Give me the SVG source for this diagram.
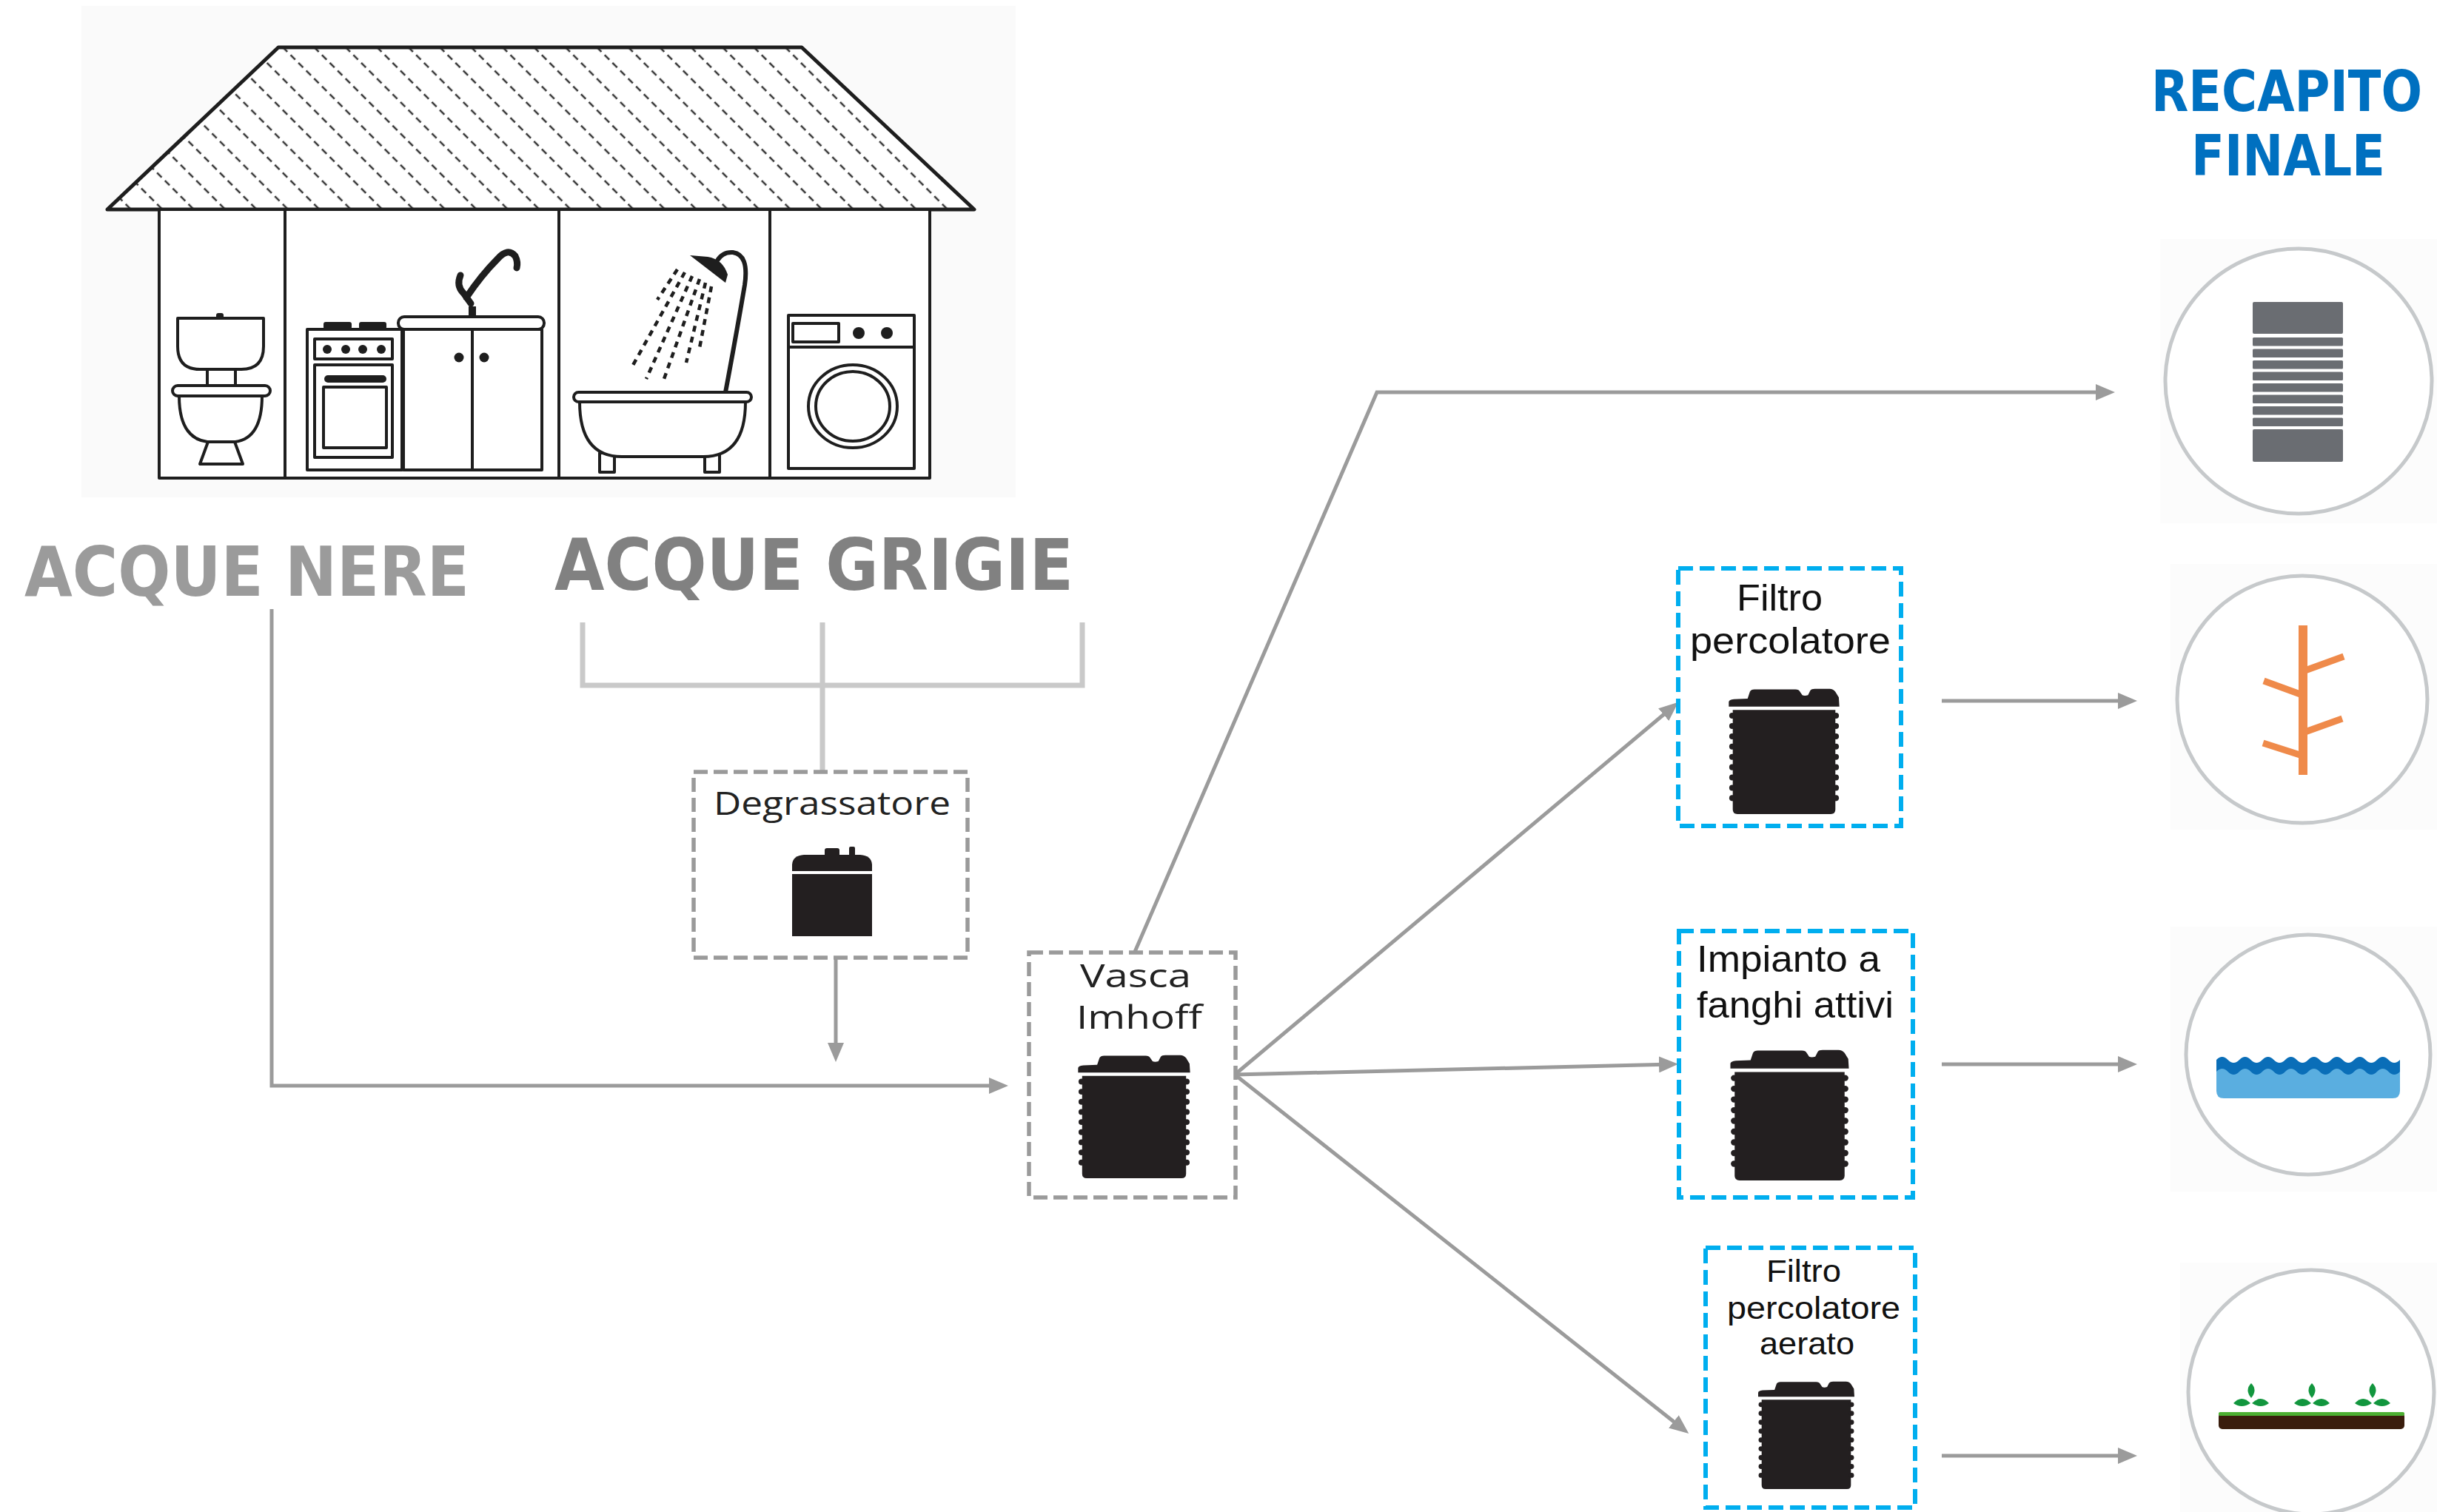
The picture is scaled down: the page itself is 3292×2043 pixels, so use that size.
<svg xmlns="http://www.w3.org/2000/svg" width="3292" height="2043" viewBox="0 0 3292 2043">
  <style>
    .conn { fill: none; stroke: #9b9b9b; stroke-width: 5; }
    .fork { fill: none; stroke: #c9c9c9; stroke-width: 7; }
    .grey-box { fill: #ffffff; stroke: #9a9a9a; stroke-width: 5.5; stroke-dasharray: 19 8; }
    .blue-box { fill: #ffffff; stroke: #00aeef; stroke-width: 6; stroke-dasharray: 20 9; }
    .ink { fill: #ffffff; stroke: #1e1e1e; stroke-width: 4; stroke-linejoin: round; }
    .ink-line { fill: none; stroke: #1e1e1e; stroke-width: 4; }
    .solid { fill: #1e1e1e; }
    .tank { fill: #231f20; }
    .lbl-g { font-family: "Open Sans", "DejaVu Sans", sans-serif; font-size: 44px; fill: #222222; }
    .lbl-h { font-family: "Liberation Sans", Arial, sans-serif; fill: #111111; }
    .head { font-family: "DejaVu Sans", Verdana, sans-serif; font-weight: bold; }
    .title { font-family: "DejaVu Sans Condensed", "DejaVu Sans", sans-serif; font-stretch: condensed; font-weight: bold; fill: #0070c0; }
    .dest { fill: #ffffff; stroke: #c6c9cb; stroke-width: 5; }
    .halo { fill: #fcfcfc; }
  </style>
  <defs>
    <marker id="arr" viewBox="0 0 26 22" refX="18" refY="11" markerWidth="26" markerHeight="22" markerUnits="userSpaceOnUse" orient="auto">
      <path d="M0,0 L26,11 L0,22 Z" fill="#9b9b9b"/>
    </marker>
    <pattern id="roofHatch" patternUnits="userSpaceOnUse" width="30" height="30" patternTransform="rotate(45)">
      <line x1="0" y1="15" x2="30" y2="15" stroke="#333333" stroke-width="2.6" stroke-dasharray="9 6"/>
    </pattern>
    <!-- ribbed tank with a lid (treatment units) -->
    <symbol id="tankTall" viewBox="0 0 100 110" preserveAspectRatio="none">
      <path class="tank" d="M1.5,16 L1.5,12 Q1.5,10 6,9.5 L18,9 L20,3 Q21,1 24,1 L60,1 Q63,1 64,3 L66,6 Q68,7 71,6 L73,2 Q74,0.5 77,0.5 L90,0.5 Q93,0.5 95,3 L98,8 L98.5,16 Z"/>
      <path class="tank" d="M5,19 L95,19 L95,106 Q95,110 91,110 L9,110 Q5,110 5,106 Z"/>
      <g class="tank">
        <ellipse cx="4.5" cy="24" rx="2.6" ry="2.6"/><ellipse cx="95.5" cy="24" rx="2.6" ry="2.6"/>
        <ellipse cx="4.5" cy="33" rx="2.6" ry="2.6"/><ellipse cx="95.5" cy="33" rx="2.6" ry="2.6"/>
        <ellipse cx="4.5" cy="42" rx="2.6" ry="2.6"/><ellipse cx="95.5" cy="42" rx="2.6" ry="2.6"/>
        <ellipse cx="4.5" cy="51" rx="2.6" ry="2.6"/><ellipse cx="95.5" cy="51" rx="2.6" ry="2.6"/>
        <ellipse cx="4.5" cy="60" rx="2.6" ry="2.6"/><ellipse cx="95.5" cy="60" rx="2.6" ry="2.6"/>
        <ellipse cx="4.5" cy="69" rx="2.6" ry="2.6"/><ellipse cx="95.5" cy="69" rx="2.6" ry="2.6"/>
        <ellipse cx="4.5" cy="78" rx="2.6" ry="2.6"/><ellipse cx="95.5" cy="78" rx="2.6" ry="2.6"/>
        <ellipse cx="4.5" cy="87" rx="2.6" ry="2.6"/><ellipse cx="95.5" cy="87" rx="2.6" ry="2.6"/>
        <ellipse cx="4.5" cy="96" rx="2.6" ry="2.6"/><ellipse cx="95.5" cy="96" rx="2.6" ry="2.6"/>
      </g>
    </symbol>
    <!-- grease trap tank -->
    <symbol id="tankShort" viewBox="0 0 108 121" preserveAspectRatio="none">
      <rect class="tank" x="44" y="2" width="20" height="14" rx="3"/>
      <rect class="tank" x="77" y="0" width="8" height="14" rx="2"/>
      <path class="tank" d="M0,33 L0,24 Q1,12 16,11 L92,11 Q107,12 108,24 L108,33 Z"/>
      <rect class="tank" x="0" y="37" width="108" height="84"/>
    </symbol>
  </defs>

  <rect x="0" y="0" width="3292" height="2043" fill="#ffffff"/>

  <!-- house with the domestic fixtures -->
  <g id="house">
    <rect x="110" y="8" width="1262" height="664" fill="#fafafa"/>
    <polygon points="376,64 1083,64 1316,283 145,283" fill="#ffffff"/>
    <polygon points="376,64 1083,64 1316,283 145,283" fill="url(#roofHatch)"/>
    <polygon points="376,64 1083,64 1316,283 145,283" fill="none" stroke="#1e1e1e" stroke-width="5" stroke-linejoin="round"/>
    <rect class="ink" x="215" y="283" width="1041" height="363"/>
    <line class="ink-line" x1="385" y1="283" x2="385" y2="646"/>
    <line class="ink-line" x1="755" y1="283" x2="755" y2="646"/>
    <line class="ink-line" x1="1040" y1="283" x2="1040" y2="646"/>

    <!-- toilet -->
    <rect class="solid" x="292" y="423" width="10" height="10" rx="3"/>
    <path class="ink" d="M240,430 L356,430 L356,468 Q356,499 326,499 L270,499 Q240,499 240,468 Z"/>
    <rect class="ink" x="280" y="499" width="38" height="22"/>
    <path class="ink" d="M242,535 L354,535 Q354,592 318,597 L280,597 Q242,592 242,535 Z"/>
    <path class="ink" d="M281,597 L270,627 L328,627 L317,597 Z"/>
    <rect class="ink" x="233" y="521" width="132" height="14" rx="7"/>

    <!-- stove -->
    <rect class="solid" x="437" y="435" width="38" height="10" rx="3"/>
    <rect class="solid" x="485" y="435" width="37" height="10" rx="3"/>
    <rect class="ink" x="415" y="445" width="128" height="190"/>
    <rect class="ink" x="425" y="458" width="105" height="27"/>
    <circle class="solid" cx="442" cy="472" r="6"/>
    <circle class="solid" cx="467" cy="472" r="6"/>
    <circle class="solid" cx="490" cy="472" r="6"/>
    <circle class="solid" cx="515" cy="472" r="6"/>
    <rect class="ink" x="425" y="493" width="105" height="125"/>
    <rect class="solid" x="438" y="507" width="84" height="10" rx="5"/>
    <rect class="ink" x="437" y="523" width="85" height="82"/>

    <!-- sink cabinet and tap -->
    <rect class="solid" x="633" y="414" width="10" height="14"/>
    <path d="M622,372 Q616,386 626,396 L636,410 M630,402 Q650,372 672,350 Q686,334 696,346 Q700,354 698,362" fill="none" stroke="#1e1e1e" stroke-width="9" stroke-linecap="round" stroke-linejoin="round"/>
    <rect class="ink" x="545" y="445" width="187" height="190"/>
    <line class="ink-line" x1="638" y1="445" x2="638" y2="635"/>
    <circle class="solid" cx="620" cy="483" r="6.5"/>
    <circle class="solid" cx="654" cy="483" r="6.5"/>
    <rect class="ink" x="538" y="428" width="197" height="17" rx="8"/>

    <!-- bath tub with shower -->
    <path d="M980,530 Q995,450 1006,385 Q1012,344 990,341 Q976,340 969,352" fill="none" stroke="#1e1e1e" stroke-width="6" stroke-linecap="round"/>
    <path class="solid" d="M932,345 L980,382 L983,371 Q976,350 956,347 Z"/>
    <g fill="none" stroke="#1e1e1e" stroke-width="4.5" stroke-dasharray="8 7">
      <line x1="925" y1="368" x2="853" y2="497"/>
      <line x1="935" y1="373" x2="873" y2="512"/>
      <line x1="945" y1="377" x2="897" y2="512"/>
      <line x1="953" y1="382" x2="927" y2="490"/>
      <line x1="961" y1="387" x2="945" y2="470"/>
      <line x1="915" y1="364" x2="888" y2="405"/>
    </g>
    <rect class="ink" x="810" y="612" width="20" height="26"/>
    <rect class="ink" x="952" y="612" width="20" height="26"/>
    <path class="ink" d="M783,543 L1007,543 Q1007,617 950,617 L840,617 Q783,617 783,543 Z"/>
    <rect class="ink" x="775" y="530" width="240" height="13" rx="6.5"/>

    <!-- washing machine -->
    <rect class="ink" x="1065" y="426" width="170" height="207"/>
    <line class="ink-line" x1="1065" y1="469" x2="1235" y2="469"/>
    <rect class="ink" x="1071" y="437" width="62" height="25"/>
    <circle class="solid" cx="1160" cy="450" r="8"/>
    <circle class="solid" cx="1198" cy="450" r="8"/>
    <ellipse class="ink" cx="1152" cy="549" rx="60" ry="56"/>
    <ellipse class="ink" cx="1152" cy="549" rx="50" ry="47"/>
  </g>

  <!-- source labels -->
  <g id="acque-nere">
    <text class="head" x="33" y="805" font-size="93" fill="#9b9b9b" textLength="601" lengthAdjust="spacingAndGlyphs">ACQUE NERE</text>
  </g>
  <g id="acque-grigie">
    <text class="head" x="749" y="797" font-size="96" fill="#818181" textLength="701" lengthAdjust="spacingAndGlyphs">ACQUE GRIGIE</text>
  </g>
  <g id="recapito-finale">
    <text class="title" x="2906" y="150" font-size="76" textLength="366" lengthAdjust="spacingAndGlyphs">RECAPITO</text>
    <text class="title" x="2960" y="237" font-size="76" textLength="262" lengthAdjust="spacingAndGlyphs">FINALE</text>
  </g>

  <!-- connectors -->
  <g id="connectors">
    <path class="fork" d="M787,841 V926 H1462 V841 M1111,841 V1041"/>
    <path class="conn" d="M367,823 V1467 H1354" marker-end="url(#arr)"/>
    <path class="conn" d="M1129,1295 V1427" marker-end="url(#arr)"/>
    <path class="conn" d="M1533,1286 L1860,530 H2849" marker-end="url(#arr)"/>
    <path class="conn" d="M1668,1452 L2261,954" marker-end="url(#arr)"/>
    <path class="conn" d="M1668,1452 L2259,1438" marker-end="url(#arr)"/>
    <path class="conn" d="M1668,1452 L2275,1932" marker-end="url(#arr)"/>
    <path class="conn" d="M2623,947 H2879" marker-end="url(#arr)"/>
    <path class="conn" d="M2623,1438 H2879" marker-end="url(#arr)"/>
    <path class="conn" d="M2623,1967 H2879" marker-end="url(#arr)"/>
  </g>

  <!-- treatment units -->
  <g id="degrassatore">
    <rect class="grey-box" x="937" y="1043" width="370" height="251"/>
    <text class="lbl-g" x="964" y="1101" textLength="320" lengthAdjust="spacingAndGlyphs">Degrassatore</text>
    <use href="#tankShort" x="1070" y="1144" width="108" height="121"/>
  </g>
  <g id="vasca-imhoff">
    <rect class="grey-box" x="1390" y="1287" width="279" height="331"/>
    <text class="lbl-g" x="1459" y="1334" font-size="46" textLength="150" lengthAdjust="spacingAndGlyphs">Vasca</text>
    <text class="lbl-g" x="1454" y="1390" font-size="46" textLength="170" lengthAdjust="spacingAndGlyphs">Imhoff</text>
    <use href="#tankTall" x="1454" y="1425" width="156" height="167"/>
  </g>
  <g id="filtro-percolatore">
    <rect class="blue-box" x="2267" y="768" width="301" height="348"/>
    <text class="lbl-h" x="2346" y="825" font-size="50" textLength="116" lengthAdjust="spacingAndGlyphs">Filtro</text>
    <text class="lbl-h" x="2283" y="883" font-size="50" textLength="271" lengthAdjust="spacingAndGlyphs">percolatore</text>
    <use href="#tankTall" x="2333" y="930" width="154" height="170"/>
  </g>
  <g id="fanghi-attivi">
    <rect class="blue-box" x="2268" y="1258" width="316" height="360"/>
    <text class="lbl-h" x="2292" y="1313" font-size="50" textLength="248" lengthAdjust="spacingAndGlyphs">Impianto a</text>
    <text class="lbl-h" x="2292" y="1375" font-size="50" textLength="266" lengthAdjust="spacingAndGlyphs">fanghi attivi</text>
    <use href="#tankTall" x="2335" y="1418" width="165" height="177"/>
  </g>
  <g id="filtro-aerato">
    <rect class="blue-box" x="2304" y="1686" width="283" height="351"/>
    <text class="lbl-h" x="2386" y="1732" font-size="42" textLength="101" lengthAdjust="spacingAndGlyphs">Filtro</text>
    <text class="lbl-h" x="2333" y="1782" font-size="42" textLength="234" lengthAdjust="spacingAndGlyphs">percolatore</text>
    <text class="lbl-h" x="2377" y="1830" font-size="42" textLength="128" lengthAdjust="spacingAndGlyphs">aerato</text>
    <use href="#tankTall" x="2373" y="1866" width="134" height="146"/>
  </g>

  <!-- final destinations -->
  <g id="dest-fognatura">
    <rect class="halo" x="2918" y="323" width="374" height="384"/>
    <ellipse class="dest" cx="3105" cy="515" rx="180" ry="179"/>
    <g fill="#6a6d72">
      <rect x="3043" y="408" width="122" height="43" rx="2"/>
      <rect x="3043" y="456" width="122" height="11.5" rx="1.5"/>
      <rect x="3043" y="471.5" width="122" height="11.5" rx="1.5"/>
      <rect x="3043" y="487" width="122" height="11.5" rx="1.5"/>
      <rect x="3043" y="502.5" width="122" height="11.5" rx="1.5"/>
      <rect x="3043" y="518" width="122" height="11.5" rx="1.5"/>
      <rect x="3043" y="533.5" width="122" height="11.5" rx="1.5"/>
      <rect x="3043" y="549" width="122" height="11.5" rx="1.5"/>
      <rect x="3043" y="564.5" width="122" height="11.5" rx="1.5"/>
      <rect x="3043" y="580" width="122" height="44" rx="2"/>
    </g>
  </g>
  <g id="dest-suolo">
    <rect class="halo" x="2932" y="762" width="360" height="359"/>
    <ellipse class="dest" cx="3110" cy="945" rx="169" ry="167"/>
    <g stroke="#ef8a4a" stroke-width="9" stroke-linecap="butt">
      <line x1="3111" y1="907" x2="3166" y2="887"/>
      <line x1="3111" y1="990" x2="3164" y2="971"/>
      <line x1="3058" y1="920" x2="3110" y2="939"/>
      <line x1="3057" y1="1004" x2="3110" y2="1021"/>
    </g>
    <rect x="3105" y="845" width="12" height="202" fill="#ef8a4a"/>
  </g>
  <g id="dest-acque">
    <rect class="halo" x="2932" y="1252" width="360" height="358"/>
    <ellipse class="dest" cx="3118" cy="1425" rx="165" ry="162"/>
    <path d="M2994,1436 H3242 V1474 Q3242,1484 3232,1484 H3004 Q2994,1484 2994,1474 Z" fill="#5aaee0"/>
    <path d="M2994,1432 q7.75,-8 15.5,0 t15.5,0 t15.5,0 t15.5,0 t15.5,0 t15.5,0 t15.5,0 t15.5,0 t15.5,0 t15.5,0 t15.5,0 t15.5,0 t15.5,0 t15.5,0 t15.5,0 t15.5,0 V1448 q-7.75,8 -15.5,0 t-15.5,0 t-15.5,0 t-15.5,0 t-15.5,0 t-15.5,0 t-15.5,0 t-15.5,0 t-15.5,0 t-15.5,0 t-15.5,0 t-15.5,0 t-15.5,0 t-15.5,0 t-15.5,0 t-15.5,0 Z" fill="#0a6eb8"/>
  </g>
  <g id="dest-irrigazione">
    <rect class="halo" x="2945" y="1706" width="347" height="337"/>
    <ellipse class="dest" cx="3122" cy="1881" rx="166" ry="165"/>
    <rect x="2997" y="1909" width="251" height="22" rx="5" fill="#3a1d0d"/>
    <rect x="2997" y="1908" width="251" height="5" rx="2" fill="#4caf32"/>
    <g fill="#12963e">
      <path d="M3041,1869 Q3050,1878 3041,1889 Q3032,1878 3041,1869 Z"/>
      <path d="M3017,1896 Q3028,1884 3040,1896 Q3028,1904 3017,1896 Z"/>
      <path d="M3042,1896 Q3054,1884 3065,1896 Q3054,1904 3042,1896 Z"/>
      <path d="M3123,1869 Q3132,1878 3123,1889 Q3114,1878 3123,1869 Z"/>
      <path d="M3099,1896 Q3110,1884 3122,1896 Q3110,1904 3099,1896 Z"/>
      <path d="M3124,1896 Q3136,1884 3147,1896 Q3136,1904 3124,1896 Z"/>
      <path d="M3205,1869 Q3214,1878 3205,1889 Q3196,1878 3205,1869 Z"/>
      <path d="M3181,1896 Q3192,1884 3204,1896 Q3192,1904 3181,1896 Z"/>
      <path d="M3206,1896 Q3218,1884 3229,1896 Q3218,1904 3206,1896 Z"/>
    </g>
  </g>
</svg>
